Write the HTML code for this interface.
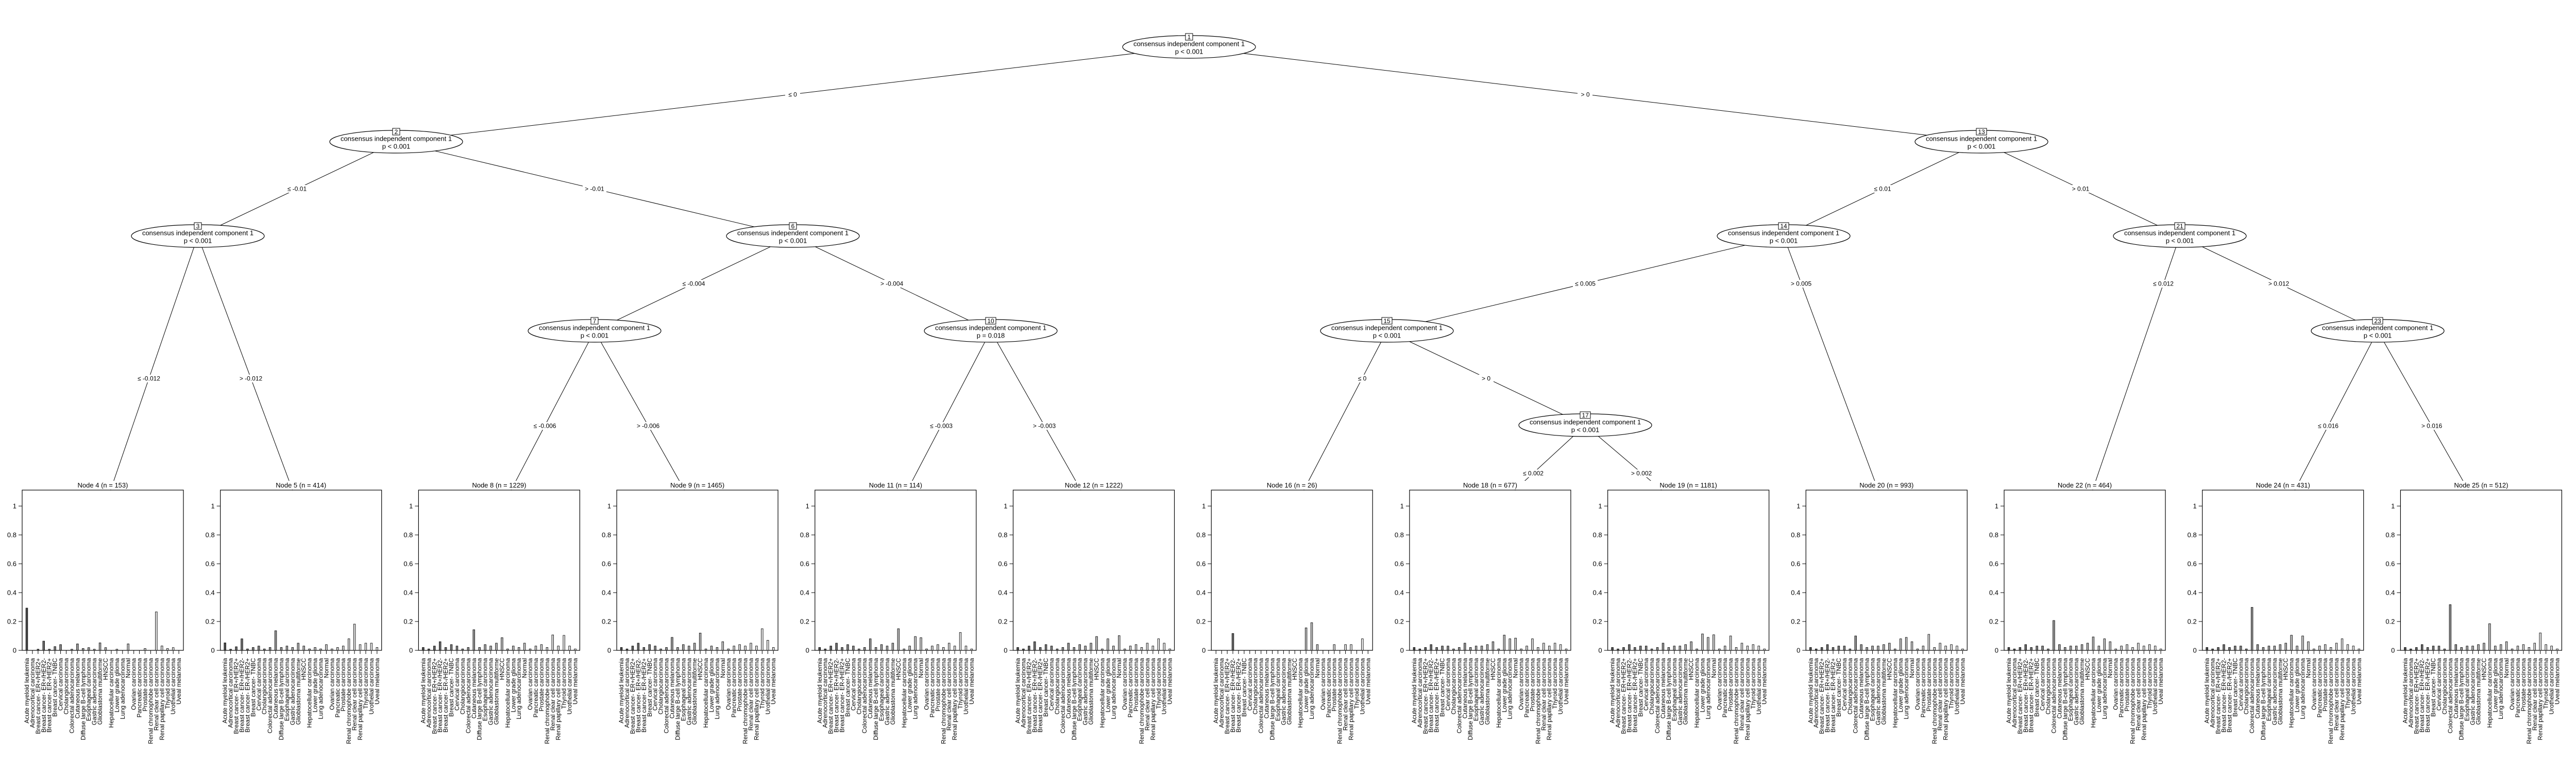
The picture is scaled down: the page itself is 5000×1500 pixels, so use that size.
<!DOCTYPE html>
<html><head><meta charset="utf-8">
<style>
html,body{margin:0;padding:0;background:#fff;}
svg{display:block;font-family:"Liberation Sans",Arial,sans-serif;}
.el{fill:#fff;stroke:#000;stroke-width:1.2}
.nt{font-size:13px;text-anchor:middle}
.nb{fill:#fff;stroke:#000;stroke-width:1}
.nn{font-size:12px;text-anchor:middle}
.eg{stroke:#000;stroke-width:1;fill:none}
.lb{font-size:12px;text-anchor:middle}
.t{font-size:13px;text-anchor:middle}
.yl{font-size:13px;text-anchor:end}
.xl{font-size:12px;text-anchor:end}
</style></head><body>
<svg id="s" width="5000" height="1500" viewBox="0 0 5000 1500" xmlns="http://www.w3.org/2000/svg">
<rect width="5000" height="1500" fill="#fff"/>
<!-- edges -->
<g class="eg">
<line x1="2308" y1="91" x2="769" y2="275"/>
<line x1="2308" y1="91" x2="3846" y2="275"/>
<line x1="769" y1="275" x2="384" y2="458"/>
<line x1="769" y1="275" x2="1539" y2="458"/>
<line x1="384" y1="458" x2="199.5" y2="995"/>
<line x1="384" y1="458" x2="584.2" y2="995"/>
<line x1="1539" y1="458" x2="1154" y2="642"/>
<line x1="1539" y1="458" x2="1923" y2="642"/>
<line x1="1154" y1="642" x2="968.9" y2="995"/>
<line x1="1154" y1="642" x2="1353.6" y2="995"/>
<line x1="1923" y1="642" x2="1738.3" y2="995"/>
<line x1="1923" y1="642" x2="2123" y2="995"/>
<line x1="3846" y1="275" x2="3462" y2="458"/>
<line x1="3846" y1="275" x2="4231" y2="458"/>
<line x1="3462" y1="458" x2="2692" y2="642"/>
<line x1="3462" y1="458" x2="3661.8" y2="995"/>
<line x1="2692" y1="642" x2="2507.7" y2="995"/>
<line x1="2692" y1="642" x2="3077" y2="825"/>
<line x1="3077" y1="825" x2="2892.4" y2="995"/>
<line x1="3077" y1="825" x2="3277.1" y2="995"/>
<line x1="4231" y1="458" x2="4046.5" y2="995"/>
<line x1="4231" y1="458" x2="4615" y2="642"/>
<line x1="4615" y1="642" x2="4431.2" y2="995"/>
<line x1="4615" y1="642" x2="4815.9" y2="995"/>
</g>
<!-- edge label backgrounds -->
<g fill="#fff">
<rect x="1524" y="176" width="29" height="15"/><rect x="3062" y="176" width="29" height="15"/>
<rect x="554" y="359" width="45" height="15"/><rect x="1131" y="359" width="46" height="15"/>
<rect x="262" y="727" width="54" height="15"/><rect x="460" y="727" width="54" height="15"/>
<rect x="1320" y="543" width="54" height="15"/><rect x="1704" y="543" width="54" height="15"/>
<rect x="1030" y="819" width="54" height="15"/><rect x="1231" y="819" width="54" height="15"/>
<rect x="1800" y="819" width="54" height="15"/><rect x="2000" y="819" width="54" height="15"/>
<rect x="3633" y="359" width="42" height="15"/><rect x="4017" y="359" width="42" height="15"/>
<rect x="3053" y="543" width="48" height="15"/><rect x="3472" y="543" width="48" height="15"/>
<rect x="2630" y="727" width="28" height="15"/><rect x="2870" y="727" width="29" height="15"/>
<rect x="2952" y="911" width="48" height="15"/><rect x="3162" y="911" width="48" height="15"/>
<rect x="4175" y="543" width="48" height="15"/><rect x="4399" y="543" width="48" height="15"/>
<rect x="4495" y="819" width="48" height="15"/><rect x="4696" y="819" width="48" height="15"/>
</g>
<g class="lb">
<text x="1538.5" y="187.5">≤ 0</text><text x="3077" y="187.5">&gt; 0</text>
<text x="576.5" y="370.5">≤ -0.01</text><text x="1154" y="370.5">&gt; -0.01</text>
<text x="289" y="738.5">≤ -0.012</text><text x="487" y="738.5">&gt; -0.012</text>
<text x="1346.5" y="554.5">≤ -0.004</text><text x="1731" y="554.5">&gt; -0.004</text>
<text x="1057.5" y="830.5">≤ -0.006</text><text x="1258" y="830.5">&gt; -0.006</text>
<text x="1827" y="830.5">≤ -0.003</text><text x="2027" y="830.5">&gt; -0.003</text>
<text x="3654" y="370.5">≤ 0.01</text><text x="4038.5" y="370.5">&gt; 0.01</text>
<text x="3077" y="554.5">≤ 0.005</text><text x="3496" y="554.5">&gt; 0.005</text>
<text x="2644" y="738.5">≤ 0</text><text x="2884.5" y="738.5">&gt; 0</text>
<text x="2976" y="922.5">≤ 0.002</text><text x="3186" y="922.5">&gt; 0.002</text>
<text x="4199" y="554.5">≤ 0.012</text><text x="4423" y="554.5">&gt; 0.012</text>
<text x="4519" y="830.5">≤ 0.016</text><text x="4720" y="830.5">&gt; 0.016</text>
</g>
<!-- inner nodes -->
<g>
<ellipse class="el" cx="2308" cy="91" rx="129" ry="22"/><text class="nt" x="2308" y="89.5">consensus independent component 1</text><text class="nt" x="2308" y="104.5">p &lt; 0.001</text><rect class="nb" x="2301" y="65" width="14" height="13"/><text class="nn" x="2308" y="76">1</text>
<ellipse class="el" cx="769" cy="275" rx="129" ry="22"/><text class="nt" x="769" y="273.5">consensus independent component 1</text><text class="nt" x="769" y="288.5">p &lt; 0.001</text><rect class="nb" x="762" y="249" width="14" height="13"/><text class="nn" x="769" y="260">2</text>
<ellipse class="el" cx="384" cy="458" rx="129" ry="22"/><text class="nt" x="384" y="456.5">consensus independent component 1</text><text class="nt" x="384" y="471.5">p &lt; 0.001</text><rect class="nb" x="377" y="432" width="14" height="13"/><text class="nn" x="384" y="443">3</text>
<ellipse class="el" cx="1539" cy="458" rx="129" ry="22"/><text class="nt" x="1539" y="456.5">consensus independent component 1</text><text class="nt" x="1539" y="471.5">p &lt; 0.001</text><rect class="nb" x="1532" y="432" width="14" height="13"/><text class="nn" x="1539" y="443">6</text>
<ellipse class="el" cx="1154" cy="642" rx="129" ry="22"/><text class="nt" x="1154" y="640.5">consensus independent component 1</text><text class="nt" x="1154" y="655.5">p &lt; 0.001</text><rect class="nb" x="1147" y="616" width="14" height="13"/><text class="nn" x="1154" y="627">7</text>
<ellipse class="el" cx="1923" cy="642" rx="129" ry="22"/><text class="nt" x="1923" y="640.5">consensus independent component 1</text><text class="nt" x="1923" y="655.5">p = 0.018</text><rect class="nb" x="1913" y="616" width="20" height="13"/><text class="nn" x="1923" y="627">10</text>
<ellipse class="el" cx="3846" cy="275" rx="129" ry="22"/><text class="nt" x="3846" y="273.5">consensus independent component 1</text><text class="nt" x="3846" y="288.5">p &lt; 0.001</text><rect class="nb" x="3836" y="249" width="20" height="13"/><text class="nn" x="3846" y="260">13</text>
<ellipse class="el" cx="3462" cy="458" rx="129" ry="22"/><text class="nt" x="3462" y="456.5">consensus independent component 1</text><text class="nt" x="3462" y="471.5">p &lt; 0.001</text><rect class="nb" x="3452" y="432" width="20" height="13"/><text class="nn" x="3462" y="443">14</text>
<ellipse class="el" cx="4231" cy="458" rx="129" ry="22"/><text class="nt" x="4231" y="456.5">consensus independent component 1</text><text class="nt" x="4231" y="471.5">p &lt; 0.001</text><rect class="nb" x="4221" y="432" width="20" height="13"/><text class="nn" x="4231" y="443">21</text>
<ellipse class="el" cx="2692" cy="642" rx="129" ry="22"/><text class="nt" x="2692" y="640.5">consensus independent component 1</text><text class="nt" x="2692" y="655.5">p &lt; 0.001</text><rect class="nb" x="2682" y="616" width="20" height="13"/><text class="nn" x="2692" y="627">15</text>
<ellipse class="el" cx="3077" cy="825" rx="129" ry="22"/><text class="nt" x="3077" y="823.5">consensus independent component 1</text><text class="nt" x="3077" y="838.5">p &lt; 0.001</text><rect class="nb" x="3067" y="799" width="20" height="13"/><text class="nn" x="3077" y="810">17</text>
<ellipse class="el" cx="4615" cy="642" rx="129" ry="22"/><text class="nt" x="4615" y="640.5">consensus independent component 1</text><text class="nt" x="4615" y="655.5">p &lt; 0.001</text><rect class="nb" x="4605" y="616" width="20" height="13"/><text class="nn" x="4615" y="627">23</text>
</g>
<g id="panels"></g>
<!-- panel texts -->
<g transform="translate(43,0)"><rect x="60" y="933" width="193" height="17" fill="#fff"/><text class="t" x="156.5" y="946">Node 4 (n = 153)</text>
<g class="yl"><text x="-11" y="1266.5">0</text><text x="-11" y="1210.5">0.2</text><text x="-11" y="1154.5">0.4</text><text x="-11" y="1098.5">0.6</text><text x="-11" y="1042.5">0.8</text><text x="-11" y="986.5">1</text></g>
<text class="xl" transform="rotate(-90)"><tspan x="-1277" y="13">Acute myeloid leukemia</tspan><tspan x="-1277" y="23.9">Adrenocortical carcinoma</tspan><tspan x="-1277" y="34.9">Breast cancer- ER+/HER2+</tspan><tspan x="-1277" y="45.8">Breast cancer- ER+/HER2-</tspan><tspan x="-1277" y="56.7">Breast cancer- ER-/HER2+</tspan><tspan x="-1277" y="67.7">Breast cancer- TNBC</tspan><tspan x="-1277" y="78.6">Cervical carcinoma</tspan><tspan x="-1277" y="89.5">Cholangiocarcinoma</tspan><tspan x="-1277" y="100.4">Colorectal adenocarcinoma</tspan><tspan x="-1277" y="111.4">Cutaneous melanoma</tspan><tspan x="-1277" y="122.3">Diffuse large B-cell lymphoma</tspan><tspan x="-1277" y="133.2">Esophageal carcinoma</tspan><tspan x="-1277" y="144.2">Gastric adenocarcinoma</tspan><tspan x="-1277" y="155.1">Glioblastoma multiforme</tspan><tspan x="-1277" y="166">HNSCC</tspan><tspan x="-1277" y="177">Hepatocellular carcinoma</tspan><tspan x="-1277" y="187.9">Lower grade glioma</tspan><tspan x="-1277" y="198.8">Lung adenocarcinoma</tspan><tspan x="-1277" y="209.7">Normal</tspan><tspan x="-1277" y="220.7">Ovarian carcinoma</tspan><tspan x="-1277" y="231.6">Pancreatic carcinoma</tspan><tspan x="-1277" y="242.5">Prostate carcinoma</tspan><tspan x="-1277" y="253.5">Renal chromophobe carcinoma</tspan><tspan x="-1277" y="264.4">Renal clear cell carcinoma</tspan><tspan x="-1277" y="275.3">Renal papillary cell carcinoma</tspan><tspan x="-1277" y="286.3">Thyroid carcinoma</tspan><tspan x="-1277" y="297.2">Urothelial carcinoma</tspan><tspan x="-1277" y="308.1">Uveal melanoma</tspan></text></g>
<g transform="translate(427.7,0)"><rect x="60" y="933" width="193" height="17" fill="#fff"/><text class="t" x="156.5" y="946">Node 5 (n = 414)</text>
<g class="yl"><text x="-11" y="1266.5">0</text><text x="-11" y="1210.5">0.2</text><text x="-11" y="1154.5">0.4</text><text x="-11" y="1098.5">0.6</text><text x="-11" y="1042.5">0.8</text><text x="-11" y="986.5">1</text></g>
<text class="xl" transform="rotate(-90)"><tspan x="-1277" y="13">Acute myeloid leukemia</tspan><tspan x="-1277" y="23.9">Adrenocortical carcinoma</tspan><tspan x="-1277" y="34.9">Breast cancer- ER+/HER2+</tspan><tspan x="-1277" y="45.8">Breast cancer- ER+/HER2-</tspan><tspan x="-1277" y="56.7">Breast cancer- ER-/HER2+</tspan><tspan x="-1277" y="67.7">Breast cancer- TNBC</tspan><tspan x="-1277" y="78.6">Cervical carcinoma</tspan><tspan x="-1277" y="89.5">Cholangiocarcinoma</tspan><tspan x="-1277" y="100.4">Colorectal adenocarcinoma</tspan><tspan x="-1277" y="111.4">Cutaneous melanoma</tspan><tspan x="-1277" y="122.3">Diffuse large B-cell lymphoma</tspan><tspan x="-1277" y="133.2">Esophageal carcinoma</tspan><tspan x="-1277" y="144.2">Gastric adenocarcinoma</tspan><tspan x="-1277" y="155.1">Glioblastoma multiforme</tspan><tspan x="-1277" y="166">HNSCC</tspan><tspan x="-1277" y="177">Hepatocellular carcinoma</tspan><tspan x="-1277" y="187.9">Lower grade glioma</tspan><tspan x="-1277" y="198.8">Lung adenocarcinoma</tspan><tspan x="-1277" y="209.7">Normal</tspan><tspan x="-1277" y="220.7">Ovarian carcinoma</tspan><tspan x="-1277" y="231.6">Pancreatic carcinoma</tspan><tspan x="-1277" y="242.5">Prostate carcinoma</tspan><tspan x="-1277" y="253.5">Renal chromophobe carcinoma</tspan><tspan x="-1277" y="264.4">Renal clear cell carcinoma</tspan><tspan x="-1277" y="275.3">Renal papillary cell carcinoma</tspan><tspan x="-1277" y="286.3">Thyroid carcinoma</tspan><tspan x="-1277" y="297.2">Urothelial carcinoma</tspan><tspan x="-1277" y="308.1">Uveal melanoma</tspan></text></g>
<g transform="translate(812.4,0)"><rect x="60" y="933" width="193" height="17" fill="#fff"/><text class="t" x="156.5" y="946">Node 8 (n = 1229)</text>
<g class="yl"><text x="-11" y="1266.5">0</text><text x="-11" y="1210.5">0.2</text><text x="-11" y="1154.5">0.4</text><text x="-11" y="1098.5">0.6</text><text x="-11" y="1042.5">0.8</text><text x="-11" y="986.5">1</text></g>
<text class="xl" transform="rotate(-90)"><tspan x="-1277" y="13">Acute myeloid leukemia</tspan><tspan x="-1277" y="23.9">Adrenocortical carcinoma</tspan><tspan x="-1277" y="34.9">Breast cancer- ER+/HER2+</tspan><tspan x="-1277" y="45.8">Breast cancer- ER+/HER2-</tspan><tspan x="-1277" y="56.7">Breast cancer- ER-/HER2+</tspan><tspan x="-1277" y="67.7">Breast cancer- TNBC</tspan><tspan x="-1277" y="78.6">Cervical carcinoma</tspan><tspan x="-1277" y="89.5">Cholangiocarcinoma</tspan><tspan x="-1277" y="100.4">Colorectal adenocarcinoma</tspan><tspan x="-1277" y="111.4">Cutaneous melanoma</tspan><tspan x="-1277" y="122.3">Diffuse large B-cell lymphoma</tspan><tspan x="-1277" y="133.2">Esophageal carcinoma</tspan><tspan x="-1277" y="144.2">Gastric adenocarcinoma</tspan><tspan x="-1277" y="155.1">Glioblastoma multiforme</tspan><tspan x="-1277" y="166">HNSCC</tspan><tspan x="-1277" y="177">Hepatocellular carcinoma</tspan><tspan x="-1277" y="187.9">Lower grade glioma</tspan><tspan x="-1277" y="198.8">Lung adenocarcinoma</tspan><tspan x="-1277" y="209.7">Normal</tspan><tspan x="-1277" y="220.7">Ovarian carcinoma</tspan><tspan x="-1277" y="231.6">Pancreatic carcinoma</tspan><tspan x="-1277" y="242.5">Prostate carcinoma</tspan><tspan x="-1277" y="253.5">Renal chromophobe carcinoma</tspan><tspan x="-1277" y="264.4">Renal clear cell carcinoma</tspan><tspan x="-1277" y="275.3">Renal papillary cell carcinoma</tspan><tspan x="-1277" y="286.3">Thyroid carcinoma</tspan><tspan x="-1277" y="297.2">Urothelial carcinoma</tspan><tspan x="-1277" y="308.1">Uveal melanoma</tspan></text></g>
<g transform="translate(1197.1,0)"><rect x="60" y="933" width="193" height="17" fill="#fff"/><text class="t" x="156.5" y="946">Node 9 (n = 1465)</text>
<g class="yl"><text x="-11" y="1266.5">0</text><text x="-11" y="1210.5">0.2</text><text x="-11" y="1154.5">0.4</text><text x="-11" y="1098.5">0.6</text><text x="-11" y="1042.5">0.8</text><text x="-11" y="986.5">1</text></g>
<text class="xl" transform="rotate(-90)"><tspan x="-1277" y="13">Acute myeloid leukemia</tspan><tspan x="-1277" y="23.9">Adrenocortical carcinoma</tspan><tspan x="-1277" y="34.9">Breast cancer- ER+/HER2+</tspan><tspan x="-1277" y="45.8">Breast cancer- ER+/HER2-</tspan><tspan x="-1277" y="56.7">Breast cancer- ER-/HER2+</tspan><tspan x="-1277" y="67.7">Breast cancer- TNBC</tspan><tspan x="-1277" y="78.6">Cervical carcinoma</tspan><tspan x="-1277" y="89.5">Cholangiocarcinoma</tspan><tspan x="-1277" y="100.4">Colorectal adenocarcinoma</tspan><tspan x="-1277" y="111.4">Cutaneous melanoma</tspan><tspan x="-1277" y="122.3">Diffuse large B-cell lymphoma</tspan><tspan x="-1277" y="133.2">Esophageal carcinoma</tspan><tspan x="-1277" y="144.2">Gastric adenocarcinoma</tspan><tspan x="-1277" y="155.1">Glioblastoma multiforme</tspan><tspan x="-1277" y="166">HNSCC</tspan><tspan x="-1277" y="177">Hepatocellular carcinoma</tspan><tspan x="-1277" y="187.9">Lower grade glioma</tspan><tspan x="-1277" y="198.8">Lung adenocarcinoma</tspan><tspan x="-1277" y="209.7">Normal</tspan><tspan x="-1277" y="220.7">Ovarian carcinoma</tspan><tspan x="-1277" y="231.6">Pancreatic carcinoma</tspan><tspan x="-1277" y="242.5">Prostate carcinoma</tspan><tspan x="-1277" y="253.5">Renal chromophobe carcinoma</tspan><tspan x="-1277" y="264.4">Renal clear cell carcinoma</tspan><tspan x="-1277" y="275.3">Renal papillary cell carcinoma</tspan><tspan x="-1277" y="286.3">Thyroid carcinoma</tspan><tspan x="-1277" y="297.2">Urothelial carcinoma</tspan><tspan x="-1277" y="308.1">Uveal melanoma</tspan></text></g>
<g transform="translate(1581.8,0)"><rect x="60" y="933" width="193" height="17" fill="#fff"/><text class="t" x="156.5" y="946">Node 11 (n = 114)</text>
<g class="yl"><text x="-11" y="1266.5">0</text><text x="-11" y="1210.5">0.2</text><text x="-11" y="1154.5">0.4</text><text x="-11" y="1098.5">0.6</text><text x="-11" y="1042.5">0.8</text><text x="-11" y="986.5">1</text></g>
<text class="xl" transform="rotate(-90)"><tspan x="-1277" y="13">Acute myeloid leukemia</tspan><tspan x="-1277" y="23.9">Adrenocortical carcinoma</tspan><tspan x="-1277" y="34.9">Breast cancer- ER+/HER2+</tspan><tspan x="-1277" y="45.8">Breast cancer- ER+/HER2-</tspan><tspan x="-1277" y="56.7">Breast cancer- ER-/HER2+</tspan><tspan x="-1277" y="67.7">Breast cancer- TNBC</tspan><tspan x="-1277" y="78.6">Cervical carcinoma</tspan><tspan x="-1277" y="89.5">Cholangiocarcinoma</tspan><tspan x="-1277" y="100.4">Colorectal adenocarcinoma</tspan><tspan x="-1277" y="111.4">Cutaneous melanoma</tspan><tspan x="-1277" y="122.3">Diffuse large B-cell lymphoma</tspan><tspan x="-1277" y="133.2">Esophageal carcinoma</tspan><tspan x="-1277" y="144.2">Gastric adenocarcinoma</tspan><tspan x="-1277" y="155.1">Glioblastoma multiforme</tspan><tspan x="-1277" y="166">HNSCC</tspan><tspan x="-1277" y="177">Hepatocellular carcinoma</tspan><tspan x="-1277" y="187.9">Lower grade glioma</tspan><tspan x="-1277" y="198.8">Lung adenocarcinoma</tspan><tspan x="-1277" y="209.7">Normal</tspan><tspan x="-1277" y="220.7">Ovarian carcinoma</tspan><tspan x="-1277" y="231.6">Pancreatic carcinoma</tspan><tspan x="-1277" y="242.5">Prostate carcinoma</tspan><tspan x="-1277" y="253.5">Renal chromophobe carcinoma</tspan><tspan x="-1277" y="264.4">Renal clear cell carcinoma</tspan><tspan x="-1277" y="275.3">Renal papillary cell carcinoma</tspan><tspan x="-1277" y="286.3">Thyroid carcinoma</tspan><tspan x="-1277" y="297.2">Urothelial carcinoma</tspan><tspan x="-1277" y="308.1">Uveal melanoma</tspan></text></g>
<g transform="translate(1966.5,0)"><rect x="60" y="933" width="193" height="17" fill="#fff"/><text class="t" x="156.5" y="946">Node 12 (n = 1222)</text>
<g class="yl"><text x="-11" y="1266.5">0</text><text x="-11" y="1210.5">0.2</text><text x="-11" y="1154.5">0.4</text><text x="-11" y="1098.5">0.6</text><text x="-11" y="1042.5">0.8</text><text x="-11" y="986.5">1</text></g>
<text class="xl" transform="rotate(-90)"><tspan x="-1277" y="13">Acute myeloid leukemia</tspan><tspan x="-1277" y="23.9">Adrenocortical carcinoma</tspan><tspan x="-1277" y="34.9">Breast cancer- ER+/HER2+</tspan><tspan x="-1277" y="45.8">Breast cancer- ER+/HER2-</tspan><tspan x="-1277" y="56.7">Breast cancer- ER-/HER2+</tspan><tspan x="-1277" y="67.7">Breast cancer- TNBC</tspan><tspan x="-1277" y="78.6">Cervical carcinoma</tspan><tspan x="-1277" y="89.5">Cholangiocarcinoma</tspan><tspan x="-1277" y="100.4">Colorectal adenocarcinoma</tspan><tspan x="-1277" y="111.4">Cutaneous melanoma</tspan><tspan x="-1277" y="122.3">Diffuse large B-cell lymphoma</tspan><tspan x="-1277" y="133.2">Esophageal carcinoma</tspan><tspan x="-1277" y="144.2">Gastric adenocarcinoma</tspan><tspan x="-1277" y="155.1">Glioblastoma multiforme</tspan><tspan x="-1277" y="166">HNSCC</tspan><tspan x="-1277" y="177">Hepatocellular carcinoma</tspan><tspan x="-1277" y="187.9">Lower grade glioma</tspan><tspan x="-1277" y="198.8">Lung adenocarcinoma</tspan><tspan x="-1277" y="209.7">Normal</tspan><tspan x="-1277" y="220.7">Ovarian carcinoma</tspan><tspan x="-1277" y="231.6">Pancreatic carcinoma</tspan><tspan x="-1277" y="242.5">Prostate carcinoma</tspan><tspan x="-1277" y="253.5">Renal chromophobe carcinoma</tspan><tspan x="-1277" y="264.4">Renal clear cell carcinoma</tspan><tspan x="-1277" y="275.3">Renal papillary cell carcinoma</tspan><tspan x="-1277" y="286.3">Thyroid carcinoma</tspan><tspan x="-1277" y="297.2">Urothelial carcinoma</tspan><tspan x="-1277" y="308.1">Uveal melanoma</tspan></text></g>
<g transform="translate(2351.2,0)"><rect x="60" y="933" width="193" height="17" fill="#fff"/><text class="t" x="156.5" y="946">Node 16 (n = 26)</text>
<g class="yl"><text x="-11" y="1266.5">0</text><text x="-11" y="1210.5">0.2</text><text x="-11" y="1154.5">0.4</text><text x="-11" y="1098.5">0.6</text><text x="-11" y="1042.5">0.8</text><text x="-11" y="986.5">1</text></g>
<text class="xl" transform="rotate(-90)"><tspan x="-1277" y="13">Acute myeloid leukemia</tspan><tspan x="-1277" y="23.9">Adrenocortical carcinoma</tspan><tspan x="-1277" y="34.9">Breast cancer- ER+/HER2+</tspan><tspan x="-1277" y="45.8">Breast cancer- ER+/HER2-</tspan><tspan x="-1277" y="56.7">Breast cancer- ER-/HER2+</tspan><tspan x="-1277" y="67.7">Breast cancer- TNBC</tspan><tspan x="-1277" y="78.6">Cervical carcinoma</tspan><tspan x="-1277" y="89.5">Cholangiocarcinoma</tspan><tspan x="-1277" y="100.4">Colorectal adenocarcinoma</tspan><tspan x="-1277" y="111.4">Cutaneous melanoma</tspan><tspan x="-1277" y="122.3">Diffuse large B-cell lymphoma</tspan><tspan x="-1277" y="133.2">Esophageal carcinoma</tspan><tspan x="-1277" y="144.2">Gastric adenocarcinoma</tspan><tspan x="-1277" y="155.1">Glioblastoma multiforme</tspan><tspan x="-1277" y="166">HNSCC</tspan><tspan x="-1277" y="177">Hepatocellular carcinoma</tspan><tspan x="-1277" y="187.9">Lower grade glioma</tspan><tspan x="-1277" y="198.8">Lung adenocarcinoma</tspan><tspan x="-1277" y="209.7">Normal</tspan><tspan x="-1277" y="220.7">Ovarian carcinoma</tspan><tspan x="-1277" y="231.6">Pancreatic carcinoma</tspan><tspan x="-1277" y="242.5">Prostate carcinoma</tspan><tspan x="-1277" y="253.5">Renal chromophobe carcinoma</tspan><tspan x="-1277" y="264.4">Renal clear cell carcinoma</tspan><tspan x="-1277" y="275.3">Renal papillary cell carcinoma</tspan><tspan x="-1277" y="286.3">Thyroid carcinoma</tspan><tspan x="-1277" y="297.2">Urothelial carcinoma</tspan><tspan x="-1277" y="308.1">Uveal melanoma</tspan></text></g>
<g transform="translate(2735.9,0)"><rect x="60" y="933" width="193" height="17" fill="#fff"/><text class="t" x="156.5" y="946">Node 18 (n = 677)</text>
<g class="yl"><text x="-11" y="1266.5">0</text><text x="-11" y="1210.5">0.2</text><text x="-11" y="1154.5">0.4</text><text x="-11" y="1098.5">0.6</text><text x="-11" y="1042.5">0.8</text><text x="-11" y="986.5">1</text></g>
<text class="xl" transform="rotate(-90)"><tspan x="-1277" y="13">Acute myeloid leukemia</tspan><tspan x="-1277" y="23.9">Adrenocortical carcinoma</tspan><tspan x="-1277" y="34.9">Breast cancer- ER+/HER2+</tspan><tspan x="-1277" y="45.8">Breast cancer- ER+/HER2-</tspan><tspan x="-1277" y="56.7">Breast cancer- ER-/HER2+</tspan><tspan x="-1277" y="67.7">Breast cancer- TNBC</tspan><tspan x="-1277" y="78.6">Cervical carcinoma</tspan><tspan x="-1277" y="89.5">Cholangiocarcinoma</tspan><tspan x="-1277" y="100.4">Colorectal adenocarcinoma</tspan><tspan x="-1277" y="111.4">Cutaneous melanoma</tspan><tspan x="-1277" y="122.3">Diffuse large B-cell lymphoma</tspan><tspan x="-1277" y="133.2">Esophageal carcinoma</tspan><tspan x="-1277" y="144.2">Gastric adenocarcinoma</tspan><tspan x="-1277" y="155.1">Glioblastoma multiforme</tspan><tspan x="-1277" y="166">HNSCC</tspan><tspan x="-1277" y="177">Hepatocellular carcinoma</tspan><tspan x="-1277" y="187.9">Lower grade glioma</tspan><tspan x="-1277" y="198.8">Lung adenocarcinoma</tspan><tspan x="-1277" y="209.7">Normal</tspan><tspan x="-1277" y="220.7">Ovarian carcinoma</tspan><tspan x="-1277" y="231.6">Pancreatic carcinoma</tspan><tspan x="-1277" y="242.5">Prostate carcinoma</tspan><tspan x="-1277" y="253.5">Renal chromophobe carcinoma</tspan><tspan x="-1277" y="264.4">Renal clear cell carcinoma</tspan><tspan x="-1277" y="275.3">Renal papillary cell carcinoma</tspan><tspan x="-1277" y="286.3">Thyroid carcinoma</tspan><tspan x="-1277" y="297.2">Urothelial carcinoma</tspan><tspan x="-1277" y="308.1">Uveal melanoma</tspan></text></g>
<g transform="translate(3120.6,0)"><rect x="60" y="933" width="193" height="17" fill="#fff"/><text class="t" x="156.5" y="946">Node 19 (n = 1181)</text>
<g class="yl"><text x="-11" y="1266.5">0</text><text x="-11" y="1210.5">0.2</text><text x="-11" y="1154.5">0.4</text><text x="-11" y="1098.5">0.6</text><text x="-11" y="1042.5">0.8</text><text x="-11" y="986.5">1</text></g>
<text class="xl" transform="rotate(-90)"><tspan x="-1277" y="13">Acute myeloid leukemia</tspan><tspan x="-1277" y="23.9">Adrenocortical carcinoma</tspan><tspan x="-1277" y="34.9">Breast cancer- ER+/HER2+</tspan><tspan x="-1277" y="45.8">Breast cancer- ER+/HER2-</tspan><tspan x="-1277" y="56.7">Breast cancer- ER-/HER2+</tspan><tspan x="-1277" y="67.7">Breast cancer- TNBC</tspan><tspan x="-1277" y="78.6">Cervical carcinoma</tspan><tspan x="-1277" y="89.5">Cholangiocarcinoma</tspan><tspan x="-1277" y="100.4">Colorectal adenocarcinoma</tspan><tspan x="-1277" y="111.4">Cutaneous melanoma</tspan><tspan x="-1277" y="122.3">Diffuse large B-cell lymphoma</tspan><tspan x="-1277" y="133.2">Esophageal carcinoma</tspan><tspan x="-1277" y="144.2">Gastric adenocarcinoma</tspan><tspan x="-1277" y="155.1">Glioblastoma multiforme</tspan><tspan x="-1277" y="166">HNSCC</tspan><tspan x="-1277" y="177">Hepatocellular carcinoma</tspan><tspan x="-1277" y="187.9">Lower grade glioma</tspan><tspan x="-1277" y="198.8">Lung adenocarcinoma</tspan><tspan x="-1277" y="209.7">Normal</tspan><tspan x="-1277" y="220.7">Ovarian carcinoma</tspan><tspan x="-1277" y="231.6">Pancreatic carcinoma</tspan><tspan x="-1277" y="242.5">Prostate carcinoma</tspan><tspan x="-1277" y="253.5">Renal chromophobe carcinoma</tspan><tspan x="-1277" y="264.4">Renal clear cell carcinoma</tspan><tspan x="-1277" y="275.3">Renal papillary cell carcinoma</tspan><tspan x="-1277" y="286.3">Thyroid carcinoma</tspan><tspan x="-1277" y="297.2">Urothelial carcinoma</tspan><tspan x="-1277" y="308.1">Uveal melanoma</tspan></text></g>
<g transform="translate(3505.3,0)"><rect x="60" y="933" width="193" height="17" fill="#fff"/><text class="t" x="156.5" y="946">Node 20 (n = 993)</text>
<g class="yl"><text x="-11" y="1266.5">0</text><text x="-11" y="1210.5">0.2</text><text x="-11" y="1154.5">0.4</text><text x="-11" y="1098.5">0.6</text><text x="-11" y="1042.5">0.8</text><text x="-11" y="986.5">1</text></g>
<text class="xl" transform="rotate(-90)"><tspan x="-1277" y="13">Acute myeloid leukemia</tspan><tspan x="-1277" y="23.9">Adrenocortical carcinoma</tspan><tspan x="-1277" y="34.9">Breast cancer- ER+/HER2+</tspan><tspan x="-1277" y="45.8">Breast cancer- ER+/HER2-</tspan><tspan x="-1277" y="56.7">Breast cancer- ER-/HER2+</tspan><tspan x="-1277" y="67.7">Breast cancer- TNBC</tspan><tspan x="-1277" y="78.6">Cervical carcinoma</tspan><tspan x="-1277" y="89.5">Cholangiocarcinoma</tspan><tspan x="-1277" y="100.4">Colorectal adenocarcinoma</tspan><tspan x="-1277" y="111.4">Cutaneous melanoma</tspan><tspan x="-1277" y="122.3">Diffuse large B-cell lymphoma</tspan><tspan x="-1277" y="133.2">Esophageal carcinoma</tspan><tspan x="-1277" y="144.2">Gastric adenocarcinoma</tspan><tspan x="-1277" y="155.1">Glioblastoma multiforme</tspan><tspan x="-1277" y="166">HNSCC</tspan><tspan x="-1277" y="177">Hepatocellular carcinoma</tspan><tspan x="-1277" y="187.9">Lower grade glioma</tspan><tspan x="-1277" y="198.8">Lung adenocarcinoma</tspan><tspan x="-1277" y="209.7">Normal</tspan><tspan x="-1277" y="220.7">Ovarian carcinoma</tspan><tspan x="-1277" y="231.6">Pancreatic carcinoma</tspan><tspan x="-1277" y="242.5">Prostate carcinoma</tspan><tspan x="-1277" y="253.5">Renal chromophobe carcinoma</tspan><tspan x="-1277" y="264.4">Renal clear cell carcinoma</tspan><tspan x="-1277" y="275.3">Renal papillary cell carcinoma</tspan><tspan x="-1277" y="286.3">Thyroid carcinoma</tspan><tspan x="-1277" y="297.2">Urothelial carcinoma</tspan><tspan x="-1277" y="308.1">Uveal melanoma</tspan></text></g>
<g transform="translate(3890,0)"><rect x="60" y="933" width="193" height="17" fill="#fff"/><text class="t" x="156.5" y="946">Node 22 (n = 464)</text>
<g class="yl"><text x="-11" y="1266.5">0</text><text x="-11" y="1210.5">0.2</text><text x="-11" y="1154.5">0.4</text><text x="-11" y="1098.5">0.6</text><text x="-11" y="1042.5">0.8</text><text x="-11" y="986.5">1</text></g>
<text class="xl" transform="rotate(-90)"><tspan x="-1277" y="13">Acute myeloid leukemia</tspan><tspan x="-1277" y="23.9">Adrenocortical carcinoma</tspan><tspan x="-1277" y="34.9">Breast cancer- ER+/HER2+</tspan><tspan x="-1277" y="45.8">Breast cancer- ER+/HER2-</tspan><tspan x="-1277" y="56.7">Breast cancer- ER-/HER2+</tspan><tspan x="-1277" y="67.7">Breast cancer- TNBC</tspan><tspan x="-1277" y="78.6">Cervical carcinoma</tspan><tspan x="-1277" y="89.5">Cholangiocarcinoma</tspan><tspan x="-1277" y="100.4">Colorectal adenocarcinoma</tspan><tspan x="-1277" y="111.4">Cutaneous melanoma</tspan><tspan x="-1277" y="122.3">Diffuse large B-cell lymphoma</tspan><tspan x="-1277" y="133.2">Esophageal carcinoma</tspan><tspan x="-1277" y="144.2">Gastric adenocarcinoma</tspan><tspan x="-1277" y="155.1">Glioblastoma multiforme</tspan><tspan x="-1277" y="166">HNSCC</tspan><tspan x="-1277" y="177">Hepatocellular carcinoma</tspan><tspan x="-1277" y="187.9">Lower grade glioma</tspan><tspan x="-1277" y="198.8">Lung adenocarcinoma</tspan><tspan x="-1277" y="209.7">Normal</tspan><tspan x="-1277" y="220.7">Ovarian carcinoma</tspan><tspan x="-1277" y="231.6">Pancreatic carcinoma</tspan><tspan x="-1277" y="242.5">Prostate carcinoma</tspan><tspan x="-1277" y="253.5">Renal chromophobe carcinoma</tspan><tspan x="-1277" y="264.4">Renal clear cell carcinoma</tspan><tspan x="-1277" y="275.3">Renal papillary cell carcinoma</tspan><tspan x="-1277" y="286.3">Thyroid carcinoma</tspan><tspan x="-1277" y="297.2">Urothelial carcinoma</tspan><tspan x="-1277" y="308.1">Uveal melanoma</tspan></text></g>
<g transform="translate(4274.7,0)"><rect x="60" y="933" width="193" height="17" fill="#fff"/><text class="t" x="156.5" y="946">Node 24 (n = 431)</text>
<g class="yl"><text x="-11" y="1266.5">0</text><text x="-11" y="1210.5">0.2</text><text x="-11" y="1154.5">0.4</text><text x="-11" y="1098.5">0.6</text><text x="-11" y="1042.5">0.8</text><text x="-11" y="986.5">1</text></g>
<text class="xl" transform="rotate(-90)"><tspan x="-1277" y="13">Acute myeloid leukemia</tspan><tspan x="-1277" y="23.9">Adrenocortical carcinoma</tspan><tspan x="-1277" y="34.9">Breast cancer- ER+/HER2+</tspan><tspan x="-1277" y="45.8">Breast cancer- ER+/HER2-</tspan><tspan x="-1277" y="56.7">Breast cancer- ER-/HER2+</tspan><tspan x="-1277" y="67.7">Breast cancer- TNBC</tspan><tspan x="-1277" y="78.6">Cervical carcinoma</tspan><tspan x="-1277" y="89.5">Cholangiocarcinoma</tspan><tspan x="-1277" y="100.4">Colorectal adenocarcinoma</tspan><tspan x="-1277" y="111.4">Cutaneous melanoma</tspan><tspan x="-1277" y="122.3">Diffuse large B-cell lymphoma</tspan><tspan x="-1277" y="133.2">Esophageal carcinoma</tspan><tspan x="-1277" y="144.2">Gastric adenocarcinoma</tspan><tspan x="-1277" y="155.1">Glioblastoma multiforme</tspan><tspan x="-1277" y="166">HNSCC</tspan><tspan x="-1277" y="177">Hepatocellular carcinoma</tspan><tspan x="-1277" y="187.9">Lower grade glioma</tspan><tspan x="-1277" y="198.8">Lung adenocarcinoma</tspan><tspan x="-1277" y="209.7">Normal</tspan><tspan x="-1277" y="220.7">Ovarian carcinoma</tspan><tspan x="-1277" y="231.6">Pancreatic carcinoma</tspan><tspan x="-1277" y="242.5">Prostate carcinoma</tspan><tspan x="-1277" y="253.5">Renal chromophobe carcinoma</tspan><tspan x="-1277" y="264.4">Renal clear cell carcinoma</tspan><tspan x="-1277" y="275.3">Renal papillary cell carcinoma</tspan><tspan x="-1277" y="286.3">Thyroid carcinoma</tspan><tspan x="-1277" y="297.2">Urothelial carcinoma</tspan><tspan x="-1277" y="308.1">Uveal melanoma</tspan></text></g>
<g transform="translate(4659.4,0)"><rect x="60" y="933" width="193" height="17" fill="#fff"/><text class="t" x="156.5" y="946">Node 25 (n = 512)</text>
<g class="yl"><text x="-11" y="1266.5">0</text><text x="-11" y="1210.5">0.2</text><text x="-11" y="1154.5">0.4</text><text x="-11" y="1098.5">0.6</text><text x="-11" y="1042.5">0.8</text><text x="-11" y="986.5">1</text></g>
<text class="xl" transform="rotate(-90)"><tspan x="-1277" y="13">Acute myeloid leukemia</tspan><tspan x="-1277" y="23.9">Adrenocortical carcinoma</tspan><tspan x="-1277" y="34.9">Breast cancer- ER+/HER2+</tspan><tspan x="-1277" y="45.8">Breast cancer- ER+/HER2-</tspan><tspan x="-1277" y="56.7">Breast cancer- ER-/HER2+</tspan><tspan x="-1277" y="67.7">Breast cancer- TNBC</tspan><tspan x="-1277" y="78.6">Cervical carcinoma</tspan><tspan x="-1277" y="89.5">Cholangiocarcinoma</tspan><tspan x="-1277" y="100.4">Colorectal adenocarcinoma</tspan><tspan x="-1277" y="111.4">Cutaneous melanoma</tspan><tspan x="-1277" y="122.3">Diffuse large B-cell lymphoma</tspan><tspan x="-1277" y="133.2">Esophageal carcinoma</tspan><tspan x="-1277" y="144.2">Gastric adenocarcinoma</tspan><tspan x="-1277" y="155.1">Glioblastoma multiforme</tspan><tspan x="-1277" y="166">HNSCC</tspan><tspan x="-1277" y="177">Hepatocellular carcinoma</tspan><tspan x="-1277" y="187.9">Lower grade glioma</tspan><tspan x="-1277" y="198.8">Lung adenocarcinoma</tspan><tspan x="-1277" y="209.7">Normal</tspan><tspan x="-1277" y="220.7">Ovarian carcinoma</tspan><tspan x="-1277" y="231.6">Pancreatic carcinoma</tspan><tspan x="-1277" y="242.5">Prostate carcinoma</tspan><tspan x="-1277" y="253.5">Renal chromophobe carcinoma</tspan><tspan x="-1277" y="264.4">Renal clear cell carcinoma</tspan><tspan x="-1277" y="275.3">Renal papillary cell carcinoma</tspan><tspan x="-1277" y="286.3">Thyroid carcinoma</tspan><tspan x="-1277" y="297.2">Urothelial carcinoma</tspan><tspan x="-1277" y="308.1">Uveal melanoma</tspan></text></g>
</svg>
<script>
(function(){
var NS="http://www.w3.org/2000/svg";
var g=document.getElementById("panels");
var D=[
[0.293,0,0.008,0.064,0.008,0.026,0.04,0,0.008,0.045,0.013,0.019,0.008,0.052,0.019,0,0.008,0,0.045,0,0,0.013,0,0.267,0.031,0.013,0.019,0],
[0.052,0.008,0.025,0.08,0.01,0.02,0.03,0.01,0.02,0.136,0.02,0.03,0.02,0.05,0.03,0.01,0.02,0.01,0.04,0.01,0.02,0.03,0.08,0.182,0.04,0.05,0.05,0.02],
[0.02,0.01,0.03,0.06,0.02,0.04,0.03,0.01,0.02,0.143,0.02,0.04,0.03,0.05,0.088,0.01,0.03,0.02,0.05,0.01,0.03,0.04,0.02,0.107,0.03,0.104,0.03,0.01],
[0.02,0.01,0.03,0.05,0.02,0.04,0.03,0.01,0.02,0.09,0.02,0.04,0.03,0.05,0.12,0.01,0.03,0.02,0.06,0.01,0.03,0.04,0.03,0.05,0.03,0.15,0.07,0.02],
[0.02,0.01,0.03,0.05,0.02,0.04,0.03,0.01,0.02,0.08,0.02,0.04,0.03,0.05,0.15,0.01,0.03,0.096,0.088,0.01,0.03,0.04,0.02,0.05,0.03,0.124,0.03,0.01],
[0.02,0.01,0.03,0.06,0.02,0.04,0.03,0.01,0.02,0.05,0.02,0.04,0.03,0.05,0.096,0.01,0.08,0.03,0.102,0.01,0.03,0.04,0.02,0.05,0.03,0.08,0.05,0.01],
[0,0,0,0.117,0,0,0,0,0,0,0,0,0,0,0,0,0.156,0.192,0.04,0,0,0.04,0,0.04,0.04,0,0.08,0],
[0.02,0.01,0.02,0.04,0.02,0.03,0.03,0.01,0.02,0.05,0.02,0.03,0.03,0.04,0.06,0.01,0.106,0.08,0.085,0.01,0.03,0.08,0.02,0.05,0.03,0.05,0.04,0.01],
[0.02,0.01,0.02,0.04,0.02,0.03,0.03,0.01,0.02,0.05,0.02,0.03,0.03,0.04,0.06,0.01,0.114,0.09,0.108,0.01,0.03,0.1,0.02,0.05,0.03,0.04,0.03,0.01],
[0.02,0.01,0.02,0.04,0.02,0.03,0.03,0.01,0.1,0.04,0.02,0.03,0.03,0.04,0.05,0.01,0.08,0.09,0.06,0.01,0.03,0.111,0.02,0.05,0.03,0.04,0.03,0.01],
[0.02,0.01,0.02,0.04,0.02,0.03,0.03,0.01,0.207,0.04,0.02,0.03,0.03,0.04,0.05,0.093,0.03,0.08,0.06,0.01,0.03,0.04,0.02,0.05,0.03,0.04,0.03,0.01],
[0.02,0.01,0.02,0.04,0.02,0.03,0.03,0.01,0.298,0.04,0.02,0.03,0.03,0.04,0.05,0.105,0.03,0.1,0.06,0.01,0.03,0.04,0.02,0.05,0.08,0.04,0.03,0.01],
[0.02,0.01,0.02,0.04,0.02,0.03,0.03,0.01,0.317,0.04,0.02,0.03,0.03,0.04,0.05,0.185,0.03,0.04,0.06,0.01,0.03,0.04,0.02,0.05,0.121,0.04,0.03,0.01]];
function el(n,a){var e=document.createElementNS(NS,n);for(var k in a)e.setAttribute(k,a[k]);g.appendChild(e);return e;}
var a=Math.pow(0.3,2.2),b=Math.pow(0.9,2.2);
for(var i=0;i<13;i++){
 var L=43+384.7*i;
 el("rect",{x:L,y:951,width:313,height:311,fill:"#fff",stroke:"#000","stroke-width":1.2});
 for(var t=0;t<=5;t++){var y=1262-56*t;el("line",{x1:L-7,y1:y,x2:L,y2:y,stroke:"#000","stroke-width":1});}
 for(var k=0;k<28;k++){
  var bx=L+9+10.93*k;
  el("line",{x1:bx,y1:1262,x2:bx,y2:1269,stroke:"#000","stroke-width":1});
  var v=D[i][k];
  if(v>0){
   var c=Math.round(255*Math.pow(a+(b-a)*k/27,1/2.2));
   var h=280*v;
   el("rect",{x:bx-1.8,y:1262-h,width:3.6,height:h,fill:"rgb("+c+","+c+","+c+")",stroke:"#000","stroke-width":0.8});
  }
 }
}
})();
</script>
</body></html>
